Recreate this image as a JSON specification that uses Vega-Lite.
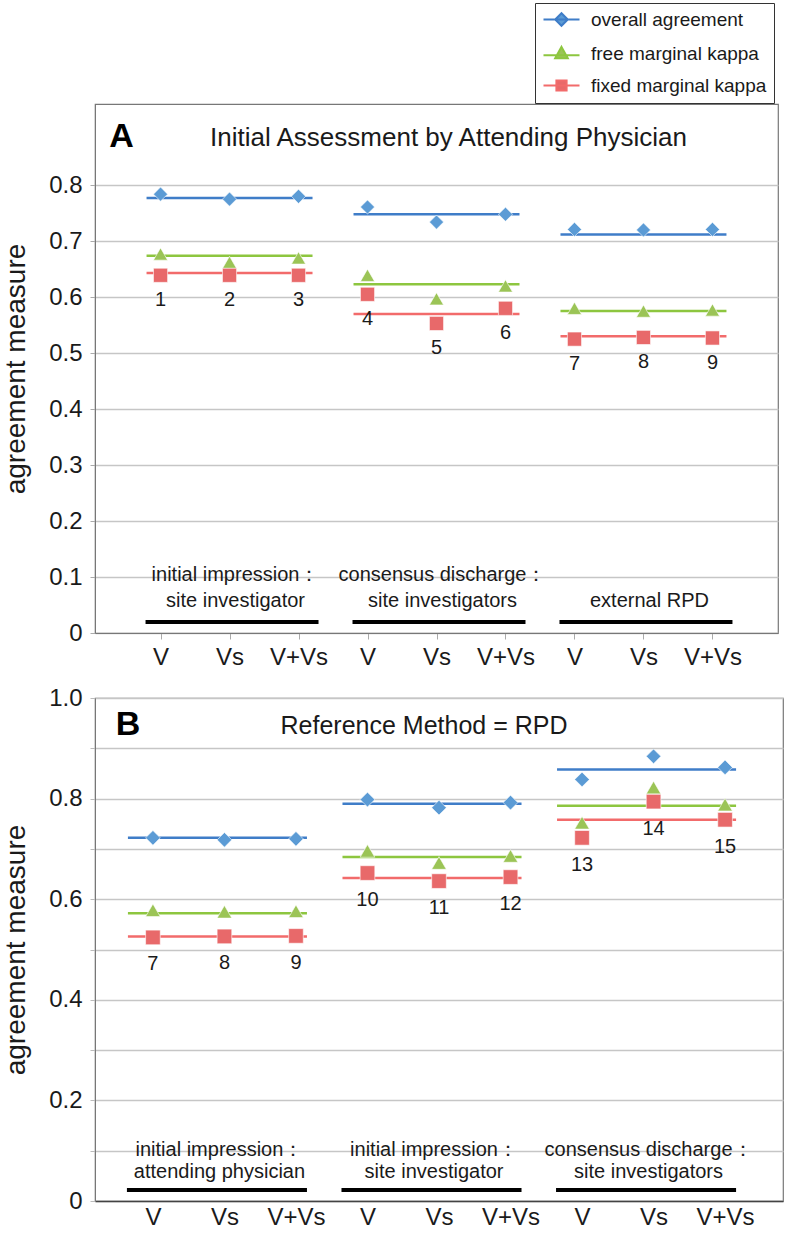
{
  "$schema": "https://vega.github.io/schema/vega-lite/v6.json",
  "padding": {"left": 2, "top": 1, "right": 2, "bottom": 2},
  "background": "white",
  "config": {
    "font": "Liberation Sans",
    "view": {"stroke": "#777", "strokeWidth": 1.2},
    "axis": {"labelFont": "Liberation Sans", "titleFont": "Liberation Sans", "labelColor": "#1a1a1a", "titleColor": "#1a1a1a"},
    "legend": {
      "title": null, "labelFontSize": 19, "labelColor": "#1a1a1a", "labelFont": "Liberation Sans", "labelLimit": 400,
      "strokeColor": "#333", "padding": 7, "rowPadding": 12,
      "symbolSize": 144, "symbolOffset": 10, "labelOffset": 20, "symbolStrokeWidth": 2
    }
  },
  "resolve": {"legend": {"color": "independent", "shape": "independent", "stroke": "independent"}},
  "datasets": {
    "pts": [
      {"panel": "A", "slot": "1", "series": "overall agreement", "value": 0.784, "num": "1"},
      {"panel": "A", "slot": "2", "series": "overall agreement", "value": 0.775, "num": "2"},
      {"panel": "A", "slot": "3", "series": "overall agreement", "value": 0.780, "num": "3"},
      {"panel": "A", "slot": "4", "series": "overall agreement", "value": 0.761, "num": "4"},
      {"panel": "A", "slot": "5", "series": "overall agreement", "value": 0.734, "num": "5"},
      {"panel": "A", "slot": "6", "series": "overall agreement", "value": 0.748, "num": "6"},
      {"panel": "A", "slot": "7", "series": "overall agreement", "value": 0.721, "num": "7"},
      {"panel": "A", "slot": "8", "series": "overall agreement", "value": 0.720, "num": "8"},
      {"panel": "A", "slot": "9", "series": "overall agreement", "value": 0.721, "num": "9"},
      {"panel": "A", "slot": "1", "series": "free marginal kappa", "value": 0.677, "num": "1"},
      {"panel": "A", "slot": "2", "series": "free marginal kappa", "value": 0.662, "num": "2"},
      {"panel": "A", "slot": "3", "series": "free marginal kappa", "value": 0.670, "num": "3"},
      {"panel": "A", "slot": "4", "series": "free marginal kappa", "value": 0.639, "num": "4"},
      {"panel": "A", "slot": "5", "series": "free marginal kappa", "value": 0.597, "num": "5"},
      {"panel": "A", "slot": "6", "series": "free marginal kappa", "value": 0.620, "num": "6"},
      {"panel": "A", "slot": "7", "series": "free marginal kappa", "value": 0.580, "num": "7"},
      {"panel": "A", "slot": "8", "series": "free marginal kappa", "value": 0.575, "num": "8"},
      {"panel": "A", "slot": "9", "series": "free marginal kappa", "value": 0.577, "num": "9"},
      {"panel": "A", "slot": "1", "series": "fixed marginal kappa", "value": 0.639, "num": "1"},
      {"panel": "A", "slot": "2", "series": "fixed marginal kappa", "value": 0.639, "num": "2"},
      {"panel": "A", "slot": "3", "series": "fixed marginal kappa", "value": 0.639, "num": "3"},
      {"panel": "A", "slot": "4", "series": "fixed marginal kappa", "value": 0.605, "num": "4"},
      {"panel": "A", "slot": "5", "series": "fixed marginal kappa", "value": 0.553, "num": "5"},
      {"panel": "A", "slot": "6", "series": "fixed marginal kappa", "value": 0.580, "num": "6"},
      {"panel": "A", "slot": "7", "series": "fixed marginal kappa", "value": 0.525, "num": "7"},
      {"panel": "A", "slot": "8", "series": "fixed marginal kappa", "value": 0.528, "num": "8"},
      {"panel": "A", "slot": "9", "series": "fixed marginal kappa", "value": 0.527, "num": "9"},
      {"panel": "B", "slot": "1", "series": "overall agreement", "value": 0.722, "num": "7"},
      {"panel": "B", "slot": "2", "series": "overall agreement", "value": 0.718, "num": "8"},
      {"panel": "B", "slot": "3", "series": "overall agreement", "value": 0.720, "num": "9"},
      {"panel": "B", "slot": "4", "series": "overall agreement", "value": 0.798, "num": "10"},
      {"panel": "B", "slot": "5", "series": "overall agreement", "value": 0.782, "num": "11"},
      {"panel": "B", "slot": "6", "series": "overall agreement", "value": 0.792, "num": "12"},
      {"panel": "B", "slot": "7", "series": "overall agreement", "value": 0.838, "num": "13"},
      {"panel": "B", "slot": "8", "series": "overall agreement", "value": 0.884, "num": "14"},
      {"panel": "B", "slot": "9", "series": "overall agreement", "value": 0.862, "num": "15"},
      {"panel": "B", "slot": "1", "series": "free marginal kappa", "value": 0.578, "num": "7"},
      {"panel": "B", "slot": "2", "series": "free marginal kappa", "value": 0.575, "num": "8"},
      {"panel": "B", "slot": "3", "series": "free marginal kappa", "value": 0.576, "num": "9"},
      {"panel": "B", "slot": "4", "series": "free marginal kappa", "value": 0.696, "num": "10"},
      {"panel": "B", "slot": "5", "series": "free marginal kappa", "value": 0.672, "num": "11"},
      {"panel": "B", "slot": "6", "series": "free marginal kappa", "value": 0.686, "num": "12"},
      {"panel": "B", "slot": "7", "series": "free marginal kappa", "value": 0.752, "num": "13"},
      {"panel": "B", "slot": "8", "series": "free marginal kappa", "value": 0.822, "num": "14"},
      {"panel": "B", "slot": "9", "series": "free marginal kappa", "value": 0.788, "num": "15"},
      {"panel": "B", "slot": "1", "series": "fixed marginal kappa", "value": 0.524, "num": "7"},
      {"panel": "B", "slot": "2", "series": "fixed marginal kappa", "value": 0.526, "num": "8"},
      {"panel": "B", "slot": "3", "series": "fixed marginal kappa", "value": 0.527, "num": "9"},
      {"panel": "B", "slot": "4", "series": "fixed marginal kappa", "value": 0.652, "num": "10"},
      {"panel": "B", "slot": "5", "series": "fixed marginal kappa", "value": 0.636, "num": "11"},
      {"panel": "B", "slot": "6", "series": "fixed marginal kappa", "value": 0.644, "num": "12"},
      {"panel": "B", "slot": "7", "series": "fixed marginal kappa", "value": 0.722, "num": "13"},
      {"panel": "B", "slot": "8", "series": "fixed marginal kappa", "value": 0.794, "num": "14"},
      {"panel": "B", "slot": "9", "series": "fixed marginal kappa", "value": 0.758, "num": "15"}
    ],
    "means": [
      {"panel": "A", "series": "overall agreement", "start": "1", "end": "3", "value": 0.777},
      {"panel": "A", "series": "overall agreement", "start": "4", "end": "6", "value": 0.748},
      {"panel": "A", "series": "overall agreement", "start": "7", "end": "9", "value": 0.712},
      {"panel": "A", "series": "free marginal kappa", "start": "1", "end": "3", "value": 0.674},
      {"panel": "A", "series": "free marginal kappa", "start": "4", "end": "6", "value": 0.623},
      {"panel": "A", "series": "free marginal kappa", "start": "7", "end": "9", "value": 0.575},
      {"panel": "A", "series": "fixed marginal kappa", "start": "1", "end": "3", "value": 0.643},
      {"panel": "A", "series": "fixed marginal kappa", "start": "4", "end": "6", "value": 0.570},
      {"panel": "A", "series": "fixed marginal kappa", "start": "7", "end": "9", "value": 0.530},
      {"panel": "B", "series": "overall agreement", "start": "1", "end": "3", "value": 0.722},
      {"panel": "B", "series": "overall agreement", "start": "4", "end": "6", "value": 0.790},
      {"panel": "B", "series": "overall agreement", "start": "7", "end": "9", "value": 0.858},
      {"panel": "B", "series": "free marginal kappa", "start": "1", "end": "3", "value": 0.572},
      {"panel": "B", "series": "free marginal kappa", "start": "4", "end": "6", "value": 0.684},
      {"panel": "B", "series": "free marginal kappa", "start": "7", "end": "9", "value": 0.786},
      {"panel": "B", "series": "fixed marginal kappa", "start": "1", "end": "3", "value": 0.526},
      {"panel": "B", "series": "fixed marginal kappa", "start": "4", "end": "6", "value": 0.642},
      {"panel": "B", "series": "fixed marginal kappa", "start": "7", "end": "9", "value": 0.758}
    ],
    "groups": [
      {"panel": "A", "start": "1", "mid": "2", "end": "3", "label": "initial impression：\nsite investigator"},
      {"panel": "A", "start": "4", "mid": "5", "end": "6", "label": "consensus discharge：\nsite investigators"},
      {"panel": "A", "start": "7", "mid": "8", "end": "9", "label": " \nexternal RPD"},
      {"panel": "B", "start": "1", "mid": "2", "end": "3", "label": "initial impression：\nattending physician"},
      {"panel": "B", "start": "4", "mid": "5", "end": "6", "label": "initial impression：\nsite investigator"},
      {"panel": "B", "start": "7", "mid": "8", "end": "9", "label": "consensus discharge：\nsite investigators"}
    ],
    "letters": [
      {"panel": "A", "slot": "1", "letter": "A"},
      {"panel": "B", "slot": "1", "letter": "B"}
    ]
  },
  "spacing": 15,
  "vconcat": [
    {
      "width": 683,
      "height": 529,
      "title": {"text": "Initial Assessment by Attending Physician", "offset": -148, "fontSize": 26, "fontWeight": "normal", "anchor": "middle", "dx": 12, "color": "#1a1a1a", "font": "Liberation Sans"},
      "encoding": {
        "x": {"field": "slot", "type": "nominal", "scale": {"type": "point", "padding": 0.95, "domain": ["1","2","3","4","5","6","7","8","9"]},
          "axis": {"title": null, "labelAngle": 0, "labelFontSize": 24, "labelPadding": 6, "tickSize": 6, "tickColor": "#aaa", "domainColor": "#777", "labelExpr": "['V','Vs','V+Vs'][(toNumber(datum.value)-1)%3]"}},
        "y": {"type": "quantitative", "scale": {"domain": [0, 0.945], "nice": false, "zero": true},
          "axis": {"title": "agreement measure", "titleFontSize": 28, "titleFontWeight": "normal", "titlePadding": 18, "labelFontSize": 24, "labelPadding": 8, "tickSize": 5, "tickColor": "#aaa", "domainColor": "#777", "gridColor": "#c6c6c6", "gridWidth": 1.5, "values": [0, 0.1, 0.2, 0.3, 0.4, 0.5, 0.6, 0.7, 0.8], "labelExpr": "datum.value == 0 ? '0' : format(datum.value, '.1f')"}}
      },
      "layer": [
        {
          "data": {"name": "means"},
          "transform": [{"filter": "datum.panel == 'A'"}],
          "mark": {"type": "rule", "strokeWidth": 2.5, "xOffset": -14, "x2Offset": 14},
          "encoding": {
            "x": {"field": "start", "type": "nominal"},
            "x2": {"field": "end"},
            "y": {"field": "value", "type": "quantitative"},
            "stroke": {"field": "series", "type": "nominal", "scale": {"domain": ["overall agreement", "free marginal kappa", "fixed marginal kappa"], "range": ["#3F7DC8", "#8DC63F", "#F26B6B"]}}
          }
        },
        {
          "data": {"name": "pts"},
          "transform": [{"filter": "false"}],
          "mark": {"type": "point", "filled": true, "opacity": 1, "strokeWidth": 2},
          "encoding": {
            "y": {"field": "value", "type": "quantitative"},
            "color": {"field": "series", "type": "nominal", "scale": {"domain": ["overall agreement", "free marginal kappa", "fixed marginal kappa"], "range": ["#5B9BD5", "#9BC456", "#E8696A"]},
              "legend": {"orient": "none", "legendX": 440, "legendY": -101, "symbolOpacity": 1, "symbolStrokeWidth": 2}},
            "shape": {"field": "series", "type": "nominal", "scale": {"domain": ["overall agreement", "free marginal kappa", "fixed marginal kappa"], "range": ["M-3,0H3M0,-1.05L1.05,0L0,1.05L-1.05,0Z", "M-3,0.3H3M0,-1.1L1.05,0.8L-1.05,0.8Z", "M-3,0H3M-0.85,-0.85H0.85V0.85H-0.85Z"]},
              "legend": {"orient": "none", "legendX": 440, "legendY": -101, "symbolOpacity": 1, "symbolStrokeWidth": 2}}
          }
        },
        {
          "data": {"name": "pts"},
          "transform": [{"filter": "datum.panel == 'A' && datum.series == 'overall agreement'"}],
          "mark": {"type": "point", "shape": "diamond", "filled": true, "opacity": 1, "stroke": "white", "strokeWidth": 0.6, "size": 200},
          "encoding": {
            "y": {"field": "value", "type": "quantitative"},
            "color": {"field": "series", "type": "nominal"}
          }
        },
        {
          "data": {"name": "pts"},
          "transform": [{"filter": "datum.panel == 'A' && datum.series == 'free marginal kappa'"}],
          "mark": {"type": "point", "shape": "triangle-up", "filled": true, "opacity": 1, "stroke": "white", "strokeWidth": 0.6, "size": 200},
          "encoding": {
            "y": {"field": "value", "type": "quantitative"},
            "color": {"field": "series", "type": "nominal"}
          }
        },
        {
          "data": {"name": "pts"},
          "transform": [{"filter": "datum.panel == 'A' && datum.series == 'fixed marginal kappa'"}],
          "mark": {"type": "point", "shape": "square", "filled": true, "opacity": 1, "stroke": "white", "strokeWidth": 0.6, "size": 200},
          "encoding": {
            "y": {"field": "value", "type": "quantitative"},
            "color": {"field": "series", "type": "nominal"}
          }
        },
        {
          "data": {"name": "pts"},
          "transform": [{"filter": "datum.panel == 'A' && datum.series == 'fixed marginal kappa'"}],
          "mark": {"type": "text", "fontSize": 20, "dy": 25, "color": "#1a1a1a"},
          "encoding": {
            "y": {"field": "value", "type": "quantitative"},
            "text": {"field": "num"}
          }
        },
        {
          "data": {"name": "groups"},
          "transform": [{"filter": "datum.panel == 'A'"}],
          "mark": {"type": "text", "fontSize": 20, "lineBreak": "\n", "lineHeight": 26, "baseline": "middle", "color": "#1a1a1a", "dx": 6},
          "encoding": {
            "x": {"field": "mid", "type": "nominal"},
            "y": {"datum": 0.104},
            "text": {"field": "label"}
          }
        },
        {
          "data": {"name": "groups"},
          "transform": [{"filter": "datum.panel == 'A'"}],
          "mark": {"type": "rule", "strokeWidth": 4, "color": "black", "xOffset": -15, "x2Offset": 20},
          "encoding": {
            "x": {"field": "start", "type": "nominal"},
            "x2": {"field": "end"},
            "y": {"datum": 0.0196}
          }
        },
        {
          "data": {"name": "letters"},
          "transform": [{"filter": "datum.panel == 'A'"}],
          "mark": {"type": "text", "fontSize": 34, "fontWeight": "bold", "dx": -39, "baseline": "middle", "color": "black"},
          "encoding": {
            "y": {"datum": 0.886},
            "text": {"field": "letter"}
          }
        }
      ]
    },
    {
      "width": 688,
      "height": 503,
      "title": {"text": "Reference Method = RPD", "offset": -53, "fontSize": 25, "fontWeight": "normal", "anchor": "middle", "dx": -15, "color": "#1a1a1a", "font": "Liberation Sans"},
      "encoding": {
        "x": {"field": "slot", "type": "nominal", "scale": {"type": "point", "padding": 0.81, "domain": ["1","2","3","4","5","6","7","8","9"]},
          "axis": {"title": null, "labelAngle": 0, "labelFontSize": 24, "labelPadding": 4, "tickSize": 0, "domainColor": "#444", "domainWidth": 1.5, "labelExpr": "['V','Vs','V+Vs'][(toNumber(datum.value)-1)%3]"}},
        "y": {"type": "quantitative", "scale": {"domain": [0, 1], "nice": false},
          "axis": {"title": "agreement measure", "titleFontSize": 28, "titleFontWeight": "normal", "titlePadding": 18, "labelFontSize": 24, "labelPadding": 8, "tickSize": 5, "tickColor": "#bbb", "domainColor": "#777", "gridColor": "#c6c6c6", "gridWidth": 1.5, "values": [0, 0.1, 0.2, 0.3, 0.4, 0.5, 0.6, 0.7, 0.8, 0.9, 1.0], "labelExpr": "datum.value == 0 ? '0' : (round(datum.value * 10) % 2 == 0 ? format(datum.value, '.1f') : '')"}}
      },
      "layer": [
        {
          "data": {"name": "means"},
          "transform": [{"filter": "datum.panel == 'B'"}],
          "mark": {"type": "rule", "strokeWidth": 2.5, "xOffset": -25, "x2Offset": 11},
          "encoding": {
            "x": {"field": "start", "type": "nominal"},
            "x2": {"field": "end"},
            "y": {"field": "value", "type": "quantitative"},
            "stroke": {"field": "series", "type": "nominal", "legend": null}
          }
        },
        {
          "data": {"name": "pts"},
          "transform": [{"filter": "datum.panel == 'B' && datum.series == 'overall agreement'"}],
          "mark": {"type": "point", "shape": "diamond", "filled": true, "opacity": 1, "stroke": "white", "strokeWidth": 0.6, "size": 215},
          "encoding": {
            "y": {"field": "value", "type": "quantitative"},
            "color": {"field": "series", "type": "nominal", "legend": null}
          }
        },
        {
          "data": {"name": "pts"},
          "transform": [{"filter": "datum.panel == 'B' && datum.series == 'free marginal kappa'"}],
          "mark": {"type": "point", "shape": "triangle-up", "filled": true, "opacity": 1, "stroke": "white", "strokeWidth": 0.6, "size": 215},
          "encoding": {
            "y": {"field": "value", "type": "quantitative"},
            "color": {"field": "series", "type": "nominal", "legend": null}
          }
        },
        {
          "data": {"name": "pts"},
          "transform": [{"filter": "datum.panel == 'B' && datum.series == 'fixed marginal kappa'"}],
          "mark": {"type": "point", "shape": "square", "filled": true, "opacity": 1, "stroke": "white", "strokeWidth": 0.6, "size": 215},
          "encoding": {
            "y": {"field": "value", "type": "quantitative"},
            "color": {"field": "series", "type": "nominal", "legend": null}
          }
        },
        {
          "data": {"name": "pts"},
          "transform": [{"filter": "datum.panel == 'B' && datum.series == 'fixed marginal kappa'"}],
          "mark": {"type": "text", "fontSize": 20, "dy": 27, "color": "#1a1a1a"},
          "encoding": {
            "y": {"field": "value", "type": "quantitative"},
            "text": {"field": "num"}
          }
        },
        {
          "data": {"name": "groups"},
          "transform": [{"filter": "datum.panel == 'B'"}],
          "mark": {"type": "text", "fontSize": 20, "lineBreak": "\n", "lineHeight": 22, "baseline": "middle", "color": "#1a1a1a", "dx": -5},
          "encoding": {
            "x": {"field": "mid", "type": "nominal"},
            "y": {"datum": 0.102},
            "text": {"field": "label"}
          }
        },
        {
          "data": {"name": "groups"},
          "transform": [{"filter": "datum.panel == 'B'"}],
          "mark": {"type": "rule", "strokeWidth": 4, "color": "black", "xOffset": -26, "x2Offset": 11},
          "encoding": {
            "x": {"field": "start", "type": "nominal"},
            "x2": {"field": "end"},
            "y": {"datum": 0.022}
          }
        },
        {
          "data": {"name": "letters"},
          "transform": [{"filter": "datum.panel == 'B'"}],
          "mark": {"type": "text", "fontSize": 34, "fontWeight": "bold", "dx": -25, "baseline": "middle", "color": "black"},
          "encoding": {
            "y": {"datum": 0.946},
            "text": {"field": "letter"}
          }
        }
      ]
    }
  ]
}
